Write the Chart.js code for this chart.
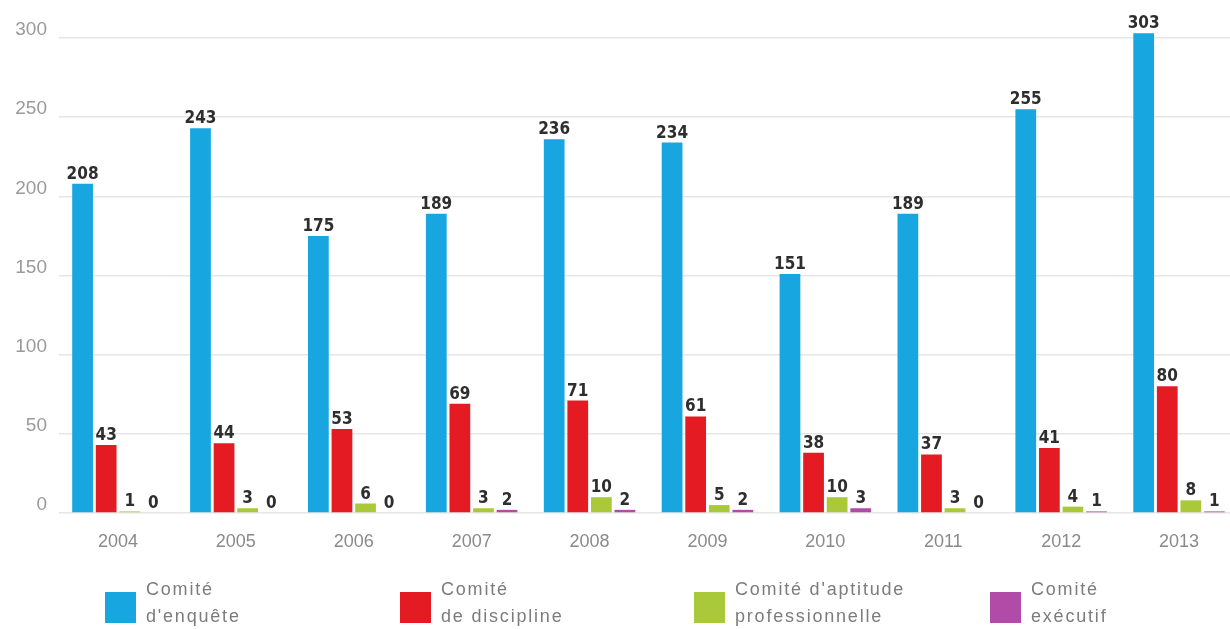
<!DOCTYPE html>
<html>
<head>
<meta charset="utf-8">
<script src="https://cdn.jsdelivr.net/npm/chart.js@4/dist/chart.umd.min.js"></script>
<style>
    html, body { margin: 0; padding: 0; background: #fff; overflow: hidden; }
    #wrap { width: 1238px; height: 629px; }
</style>
</head>
<body>
<div id="wrap"><canvas id="chart"></canvas></div>
<script>
const years = ["2004", "2005", "2006", "2007", "2008", "2009", "2010", "2011", "2012", "2013"];

const enquete = [208, 243, 175, 189, 236, 234, 151, 189, 255, 303];
const discipline = [43, 44, 53, 69, 71, 61, 38, 37, 41, 80];
const aptitude = [1, 3, 6, 3, 10, 5, 10, 3, 4, 8];
const executif = [0, 0, 0, 2, 2, 2, 3, 0, 1, 1];

const seriesNames = [
    ["Comité", "d'enquête"],
    ["Comité", "de discipline"],
    ["Comité d'aptitude", "professionnelle"],
    ["Comité", "exécutif"],
];
const seriesColors = ["#17a6df", "#e41b23", "#a9c93a", "#b24aa7"];

const yTicks = [0, 50, 100, 150, 200, 250, 300];

const axisFont = "'Liberation Sans', Arial, sans-serif";

// etiquettes de valeur au-dessus des barres
const valueLabels = {
    id: "valueLabels",
    afterDatasetsDraw(chart) {
        const ctx = chart.ctx;
        ctx.save();
        ctx.font = "bold 17px 'DejaVu Sans Condensed', 'Liberation Sans Narrow', sans-serif";
        ctx.fillStyle = "#2e2e2e";
        ctx.textAlign = "center";
        ctx.textBaseline = "alphabetic";
        chart.data.datasets.forEach((ds, i) => {
            chart.getDatasetMeta(i).data.forEach((bar, j) => {
                ctx.fillText(String(ds.data[j]), bar.x, bar.y - 5);
            });
        });
        ctx.restore();
    },
};

// legende sur deux lignes en bas
const bottomLegend = {
    id: "bottomLegend",
    afterDraw(chart) {
        const ctx = chart.ctx;
        const xs = [105, 400, 694, 990];
        ctx.save();
        ctx.font = "18px " + axisFont;
        ctx.letterSpacing = "1.8px";
        ctx.textBaseline = "middle";
        ctx.textAlign = "left";
        chart.data.datasets.forEach((ds, i) => {
            ctx.fillStyle = ds.backgroundColor;
            ctx.fillRect(xs[i], 592, 31, 31);
            ctx.fillStyle = "#7c7c7c";
            seriesNames[i].forEach((line, k) => {
                ctx.fillText(line, xs[i] + 41, 590 + k * 27);
            });
        });
        ctx.restore();
    },
};

const datasets = [enquete, discipline, aptitude, executif].map((values, i) => ({
    label: seriesNames[i].join(" "),
    data: values,
    backgroundColor: seriesColors[i],
    categoryPercentage: 0.8,
    barPercentage: 0.88,
    clip: false,
}));

new Chart(document.getElementById("chart"), {
    type: "bar",
    data: { labels: years, datasets: datasets },
    plugins: [valueLabels, bottomLegend],
    options: {
        responsive: true,
        maintainAspectRatio: false,
        animation: false,
        layout: { padding: { top: 38, right: 0, bottom: 76, left: 0 } },
        plugins: {
            legend: { display: false },
            tooltip: { enabled: false },
        },
        scales: {
            x: {
                grid: { display: false },
                border: { display: false },
                ticks: {
                    color: "#8a8a8a",
                    padding: 10,
                    font: { family: axisFont, size: 18 },
                },
                afterFit(scale) {
                    scale.height = 40;
                },
            },
            y: {
                min: 0,
                max: 300,
                afterBuildTicks(scale) {
                    scale.ticks = yTicks.map((v) => ({ value: v }));
                },
                grid: { color: "#e6e6e6", drawTicks: false, lineWidth: 1.5 },
                border: { display: false },
                ticks: {
                    color: "#9a9a9a",
                    padding: 12,
                    labelOffset: -8,
                    font: { family: axisFont, size: 19 },
                },
                afterFit(scale) {
                    scale.width = 59;
                },
            },
        },
    },
});
</script>
</body>
</html>
